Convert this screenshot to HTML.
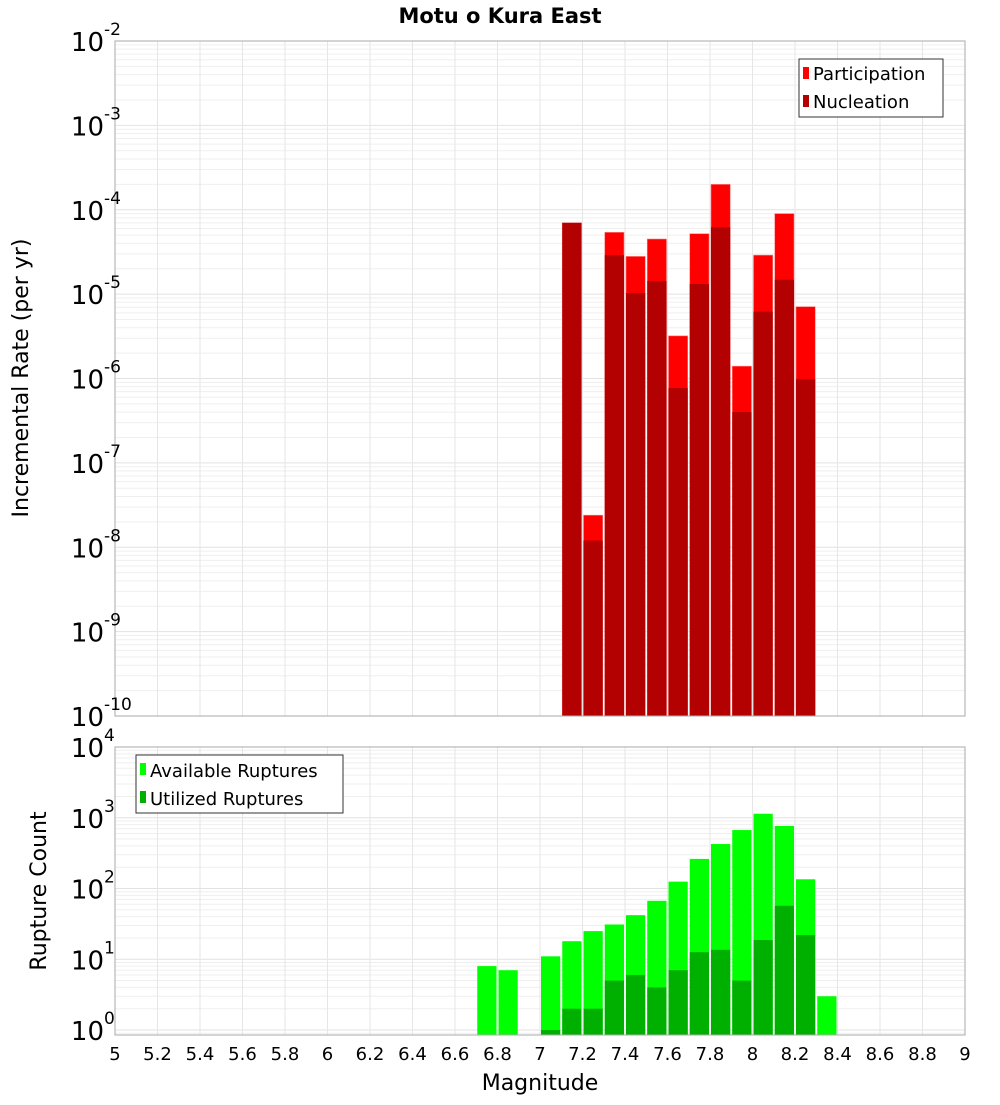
<!DOCTYPE html>
<html><head><meta charset="utf-8"><style>
body{margin:0;background:#fff;font-family:"Liberation Sans","DejaVu Sans",sans-serif}
svg text{font-family:"DejaVu Sans","Liberation Sans",sans-serif}
</style></head><body>
<svg id="c" width="1000" height="1100" xmlns="http://www.w3.org/2000/svg">
<rect width="1000" height="1100" fill="#fff"/>
<text x="500" y="23" text-anchor="middle" font-weight="bold" font-size="21">Motu o Kura East</text>
<g id="top"></g>
<g id="bot"></g>
<text transform="translate(28,378) rotate(-90)" text-anchor="middle" font-size="22">Incremental Rate (per yr)</text>
<text transform="translate(46,891) rotate(-90)" text-anchor="middle" font-size="22">Rupture Count</text>
<text x="540" y="1090" text-anchor="middle" font-size="22">Magnitude</text>
<g>
<rect x="799" y="59" width="144" height="58" fill="#fff" stroke="#333"/>
<rect x="803" y="67" width="6" height="12" fill="#ff0000"/>
<text x="813" y="80" font-size="18">Participation</text>
<rect x="803" y="95" width="6" height="12" fill="#b30000"/>
<text x="813" y="108" font-size="18">Nucleation</text>
</g>
<g>
<rect x="136" y="755" width="207" height="58" fill="#fff" stroke="#333"/>
<rect x="140" y="763" width="6" height="12" fill="#00ff00"/>
<text x="150" y="777" font-size="18">Available Ruptures</text>
<rect x="140" y="791" width="6" height="12" fill="#00b000"/>
<text x="150" y="805" font-size="18">Utilized Ruptures</text>
</g>
</svg>
<script>
const rateBins=[7.1,7.2,7.3,7.4,7.5,7.6,7.7,7.8,7.9,8.0,8.1,8.2];
const participation=[7.0e-5,2.4e-8,5.4e-5,2.8e-5,4.5e-5,3.2e-6,5.2e-5,2.0e-4,1.4e-6,2.9e-5,9.0e-5,7.1e-6];
const nucleation=[7.0e-5,1.2e-8,2.9e-5,1.03e-5,1.43e-5,7.7e-7,1.32e-5,6.2e-5,4.0e-7,6.2e-6,1.48e-5,9.8e-7];
const countBins=[6.7,6.8,7.0,7.1,7.2,7.3,7.4,7.5,7.6,7.7,7.8,7.9,8.0,8.1,8.2,8.3];
const available=[8,7,11,18,25,31,42,67,125,262,425,670,1140,765,135,3];
const utilized=[0,0,1,2,2,5,6,4,7,12.6,13.6,5,18.7,57,22,0];
const xTicks=[5,5.2,5.4,5.6,5.8,6,6.2,6.4,6.6,6.8,7,7.2,7.4,7.6,7.8,8,8.2,8.4,8.6,8.8,9];
const topExps=[-2,-3,-4,-5,-6,-7,-8,-9,-10];
const botExps=[0,1,2,3,4];

const NS="http://www.w3.org/2000/svg";
const X0=115,X1=965;
const xs=m=>X0+(m-5)/4*(X1-X0);
const T={y0:41,y1:716,top:-2,bot:-10};
const B={y0:747,y1:1035,lo:0,hi:4,yLo:1030,yHi:747};
const yT=v=>T.y0+(T.top-Math.log10(v))/(T.top-T.bot)*(T.y1-T.y0);
const yB=v=>B.yLo-(Math.log10(v)-B.lo)/(B.hi-B.lo)*(B.yLo-B.yHi);
function el(p,t,a){const e=document.createElementNS(NS,t);for(const k in a)e.setAttribute(k,a[k]);p.appendChild(e);return e;}
function grid(g,y0,y1,yf,elo,ehi){
  for(let e=elo;e<ehi;e++)for(let k=1;k<10;k++){const y=yf(k*Math.pow(10,e));if(y>=y0-0.5&&y<=y1+0.5)el(g,'line',{x1:X0,x2:X1,y1:y,y2:y,stroke:k==1?'#e2e2e2':'#efefef','stroke-width':1});}
  xTicks.forEach(t=>el(g,'line',{x1:xs(t),x2:xs(t),y1:y0,y2:y1,stroke:'#e6e6e6'}));
}
function ylab(g,y,e,name){const t=el(g,'text',{x:104,y:y+10,'text-anchor':'end','font-size':26});
  
  
  t.textContent='10';
  const s=el(g,'text',{x:104,y:y-6,'font-size':17});
  s.textContent=String(e);}
const gt=document.getElementById('top');
grid(gt,T.y0,T.y1,yT,-10,-2);
rateBins.forEach((m,i)=>{
  const x=xs(m)+1,w=xs(m+0.1)-xs(m)-2;
  const r=el(gt,'rect',{x:x,y:yT(participation[i]),width:w,height:T.y1-yT(participation[i]),fill:'#ff0000',stroke:'#ff8080','stroke-width':0.6});
  
  
  const n=el(gt,'rect',{x:x,y:yT(nucleation[i]),width:w,height:T.y1-yT(nucleation[i]),fill:'#b30000'});
  
  
});
el(gt,'rect',{x:X0,y:T.y0,width:X1-X0,height:T.y1-T.y0,fill:'none',stroke:'#aaa'});
topExps.forEach(e=>ylab(gt,yT(Math.pow(10,e)),e,'rate-y-tick'));

const gb=document.getElementById('bot');
grid(gb,B.y0,B.y1,yB,-1,4);
countBins.forEach((m,i)=>{
  const x=xs(m)+1,w=xs(m+0.1)-xs(m)-2;
  if(available[i]>0){const a=el(gb,'rect',{x:x,y:yB(available[i]),width:w,height:B.y1-yB(available[i]),fill:'#00ff00'});
  
  }
  if(utilized[i]>0){const u=el(gb,'rect',{x:x,y:yB(utilized[i]),width:w,height:B.y1-yB(utilized[i]),fill:'#00b000'});
  
  }
});
el(gb,'rect',{x:X0,y:B.y0,width:X1-X0,height:B.y1-B.y0,fill:'none',stroke:'#aaa'});
botExps.forEach(e=>ylab(gb,yB(Math.pow(10,e)),e,'count-y-tick'));
xTicks.forEach(t=>{const tx=el(gb,'text',{x:xs(t),y:1060,'text-anchor':'middle','font-size':18});
  
  
  tx.textContent=String(t);});
</script>
</body></html>
